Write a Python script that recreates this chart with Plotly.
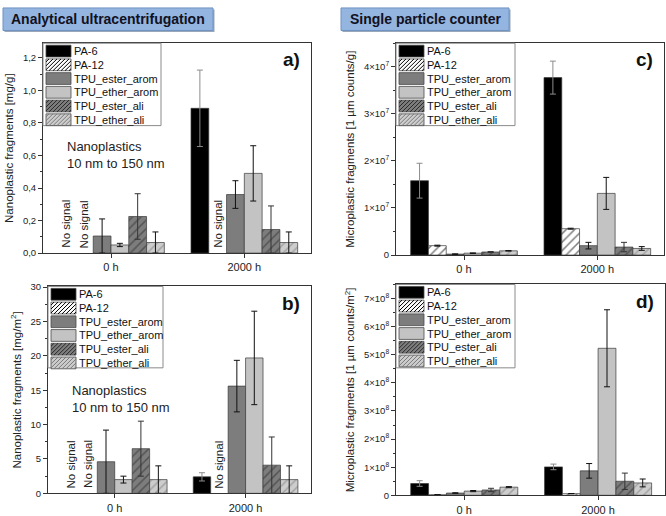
import plotly.graph_objects as go

# ---------------- data ----------------
series = ["PA-6", "PA-12", "TPU_ester_arom", "TPU_ether_arom", "TPU_ester_ali", "TPU_ether_ali"]
times = ["0 h", "2000 h"]

# a) Analytical ultracentrifugation, nanoplastic fragments [mg/g]  (None = no signal)
auc_mass = [[None, 0.89], [None, None], [0.105, 0.36], [0.05, 0.49], [0.225, 0.145], [0.065, 0.065]]
auc_mass_err = [[None, 0.235], [None, None], [0.105, 0.085], [0.01, 0.17], [0.14, 0.145], [0.065, 0.065]]

# b) Analytical ultracentrifugation, nanoplastic fragments [mg/m2]
auc_area = [[None, 2.4], [None, None], [4.6, 15.6], [2.0, 19.7], [6.5, 4.1], [2.0, 2.0]]
auc_area_err = [[None, 0.6], [None, None], [4.6, 3.75], [0.5, 6.8], [4.0, 4.1], [2.0, 2.0]]

# c) Single particle counter, microplastic fragments [1 um counts/g]
spc_mass = [[1.58e7, 3.77e7], [0.20e7, 0.56e7], [0.02e7, 0.20e7], [0.04e7, 1.31e7], [0.065e7, 0.17e7], [0.09e7, 0.14e7]]
spc_mass_err = [[0.37e7, 0.35e7], [0.01e7, 0.01e7], [0.005e7, 0.07e7], [0.005e7, 0.34e7], [0.01e7, 0.10e7], [0.005e7, 0.04e7]]

# d) Single particle counter, microplastic fragments [1 um counts/m2]
spc_area = [[0.42e8, 1.01e8], [0.02e8, 0.06e8], [0.08e8, 0.87e8], [0.15e8, 5.23e8], [0.19e8, 0.50e8], [0.29e8, 0.44e8]]
spc_area_err = [[0.10e8, 0.10e8], [0.003e8, 0.005e8], [0.01e8, 0.26e8], [0.02e8, 1.37e8], [0.06e8, 0.29e8], [0.02e8, 0.14e8]]

# tick labels
ticks_a = [0, 0.2, 0.4, 0.6, 0.8, 1.0, 1.2]
ticklabels_a = ["0,0", "0,2", "0,4", "0,6", "0,8", "1,0", "1,2"]
ticks_b = [0, 5, 10, 15, 20, 25, 30]
ticklabels_b = ["0", "5", "10", "15", "20", "25", "30"]
ticks_c = [0, 1e7, 2e7, 3e7, 4e7]
ticklabels_c = ["0", "1×10<sup>7</sup>", "2×10<sup>7</sup>", "3×10<sup>7</sup>", "4×10<sup>7</sup>"]
ticks_d = [0, 1e8, 2e8, 3e8, 4e8, 5e8, 6e8, 7e8]
ticklabels_d = ["0"] + [f"{k}×10<sup>8</sup>" for k in range(1, 8)]

# ---------------- styles ----------------
W, H = 666, 516
FONT = "Arial, Liberation Sans, sans-serif"
fills = ["#000000", "#ffffff", "#7d7d7d", "#c3c3c3", "#7d7d7d", "#cdcdcd"]
hatch = [None, "#000000", None, None, "#2a2a2a", "#7a7a7a"]
errcol = ["#8c8c8c", "#111111", "#111111", "#111111", "#333333", "#111111"]


def px(x):
    return x / W


def py(y):
    return 1 - y / H


panels = [
    dict(vals=auc_mass, errs=auc_mass_err, xa="x", ya="y", xk="xaxis", yk="yaxis",
         box=(43, 39, 311, 253), rng=[0, 1.29], tv=ticks_a, tt=ticklabels_a, minor=0.1,
         title="Nanoplastic fragments [mg/g]", label="a)", leg=(43, 39, 161, 123), nano=True),
    dict(vals=spc_mass, errs=spc_mass_err, xa="x2", ya="y2", xk="xaxis2", yk="yaxis2",
         box=(396, 39, 664, 255), rng=[0, 4.5e7], tv=ticks_c, tt=ticklabels_c, minor=0.5e7,
         title="Microplastic fragments [1 µm counts/g]", label="c)", leg=(396, 39, 515, 123), nano=False),
    dict(vals=auc_area, errs=auc_area_err, xa="x3", ya="y3", xk="xaxis3", yk="yaxis3",
         box=(48, 287, 311, 498), rng=[0, 30.1], tv=ticks_b, tt=ticklabels_b, minor=2.5,
         title="Nanoplastic fragments [mg/m<sup>2</sup>]", label="b)", leg=(48, 287, 163, 370), nano=True),
    dict(vals=spc_area, errs=spc_area_err, xa="x4", ya="y4", xk="xaxis4", yk="yaxis4",
         box=(396, 285, 665, 500), rng=[0, 7.5e8], tv=ticks_d, tt=ticklabels_d, minor=0.5e8,
         title="Microplastic fragments [1 µm counts/m<sup>2</sup>]", label="d)", leg=(396, 285, 515, 370), nano=False),
]

fig = go.Figure()
layout = dict(
    width=W, height=H, margin=dict(l=0, r=0, t=0, b=0),
    paper_bgcolor="white", plot_bgcolor="white",
    barmode="group", bargap=0.2, bargroupgap=0.0,
    showlegend=False, font=dict(family=FONT, color="#222222"),
)
shapes = []
annotations = []
n = len(series)

for p in panels:
    for i, name in enumerate(series):
        pattern = None
        if hatch[i]:
            pattern = dict(shape="/", fgcolor=hatch[i], bgcolor=fills[i], size=6, solidity=0.25)
        fig.add_trace(go.Bar(
            x=times, y=p["vals"][i], name=name, xaxis=p["xa"], yaxis=p["ya"],
            marker=dict(color=fills[i], line=dict(color="#3a3a3a", width=0.7), pattern=pattern),
            error_y=dict(type="data", array=p["errs"][i], symmetric=True, color=errcol[i],
                         thickness=1, width=3),
            showlegend=False,
        ))
        # "No signal" labels where a value is missing
        for g, v in enumerate(p["vals"][i]):
            if v is None:
                annotations.append(dict(
                    x=g - 0.4 + (i + 0.5) * 0.8 / n, y=0, xref=p["xa"], yref=p["ya"],
                    text="No signal", textangle=-90, showarrow=False,
                    xanchor="center", yanchor="bottom", yshift=3,
                    font=dict(size=11.5, color="#222222", family=FONT)))
    x0, y0, x1, y1 = p["box"]
    layout[p["xk"]] = dict(
        domain=[px(x0), px(x1)], anchor=p["ya"], range=[-0.51, 1.5], type="category",
        showline=True, mirror=True, linecolor="#333333", linewidth=1,
        ticks="outside", ticklen=4, tickcolor="#333333",
        tickfont=dict(size=11, color="#222222", family=FONT), showgrid=False, zeroline=False)
    layout[p["yk"]] = dict(
        domain=[py(y1), py(y0)], anchor=p["xa"], range=p["rng"],
        tickmode="array", tickvals=p["tv"], ticktext=p["tt"],
        showline=True, mirror=True, linecolor="#333333", linewidth=1,
        ticks="outside", ticklen=4, tickcolor="#333333",
        minor=dict(tickmode="linear", tick0=0, dtick=p["minor"], ticks="outside", ticklen=2, tickcolor="#333333"),
        tickfont=dict(size=9.5, color="#222222", family=FONT),
        title=dict(text=p["title"], font=dict(size=11.5, color="#222222", family=FONT), standoff=6),
        showgrid=False, zeroline=False)
    # panel label
    annotations.append(dict(x=px(x1 - 9), y=py(y0 + 17), xref="paper", yref="paper",
                            text=f"<b>{p['label']}</b>", showarrow=False,
                            xanchor="right", yanchor="middle",
                            font=dict(size=19, color="#111111", family=FONT)))
    if p["nano"]:
        annotations.append(dict(x=px(x0 + 22), y=py(y0 + 96), xref="paper", yref="paper",
                                text="Nanoplastics<br>10 nm to 150 nm", showarrow=False, align="left",
                                xanchor="left", yanchor="top",
                                font=dict(size=13, color="#222222", family=FONT)))
    # legend box (drawn)
    lx0, ly0, lx1, ly1 = p["leg"]
    shapes.append(dict(type="rect", xref="paper", yref="paper",
                       x0=px(lx0), x1=px(lx1), y0=py(ly1), y1=py(ly0),
                       fillcolor="white", line=dict(color="#8a8a8a", width=1), layer="above"))
    for i, name in enumerate(series):
        sx0, sx1 = lx0 + 3, lx0 + 28
        sy0 = ly0 + 2 + i * 14
        sy1 = sy0 + 12
        shapes.append(dict(type="rect", xref="paper", yref="paper",
                           x0=px(sx0), x1=px(sx1), y0=py(sy1), y1=py(sy0),
                           fillcolor=fills[i], line=dict(color="#4a4a4a", width=0.8), layer="above"))
        if hatch[i]:
            k = sx0 + sy0 + 3
            while k < sx1 + sy1:
                ax0 = max(sx0, k - sy1)
                ax1 = min(sx1, k - sy0)
                if ax1 > ax0:
                    shapes.append(dict(type="line", xref="paper", yref="paper",
                                       x0=px(ax0), y0=py(k - ax0), x1=px(ax1), y1=py(k - ax1),
                                       line=dict(color=hatch[i], width=1), layer="above"))
                k += 4
        annotations.append(dict(x=px(sx1 + 1), y=py((sy0 + sy1) / 2), xref="paper", yref="paper",
                                text=name, showarrow=False, xanchor="left", yanchor="middle",
                                font=dict(size=11, color="#111111", family=FONT)))

# header boxes
headers = [("Analytical ultracentrifugation", 3, 213), ("Single particle counter", 341, 509)]
for text, hx0, hx1 in headers:
    shapes.append(dict(type="rect", xref="paper", yref="paper",
                       x0=px(hx0 + 1.5), x1=px(hx1 + 1.5), y0=py(27.5), y1=py(4.5),
                       fillcolor="#9aa7b8", line=dict(width=0), layer="below"))
    shapes.append(dict(type="rect", xref="paper", yref="paper",
                       x0=px(hx0), x1=px(hx1), y0=py(26), y1=py(3),
                       fillcolor="#93b5df", line=dict(color="#6f93c2", width=1), layer="below"))
    annotations.append(dict(x=px((hx0 + hx1) / 2), y=py(14.5), xref="paper", yref="paper",
                            text=f"<b>{text}</b>", showarrow=False, xanchor="center", yanchor="middle",
                            font=dict(size=14, color="#111122", family=FONT)))

layout["shapes"] = shapes
layout["annotations"] = annotations
fig.update_layout(**layout)
fig.write_html(
    "out.html",
    config={"displayModeBar": False},
    post_script="document.body.style.margin='0px';document.body.style.overflow='hidden';",
)
